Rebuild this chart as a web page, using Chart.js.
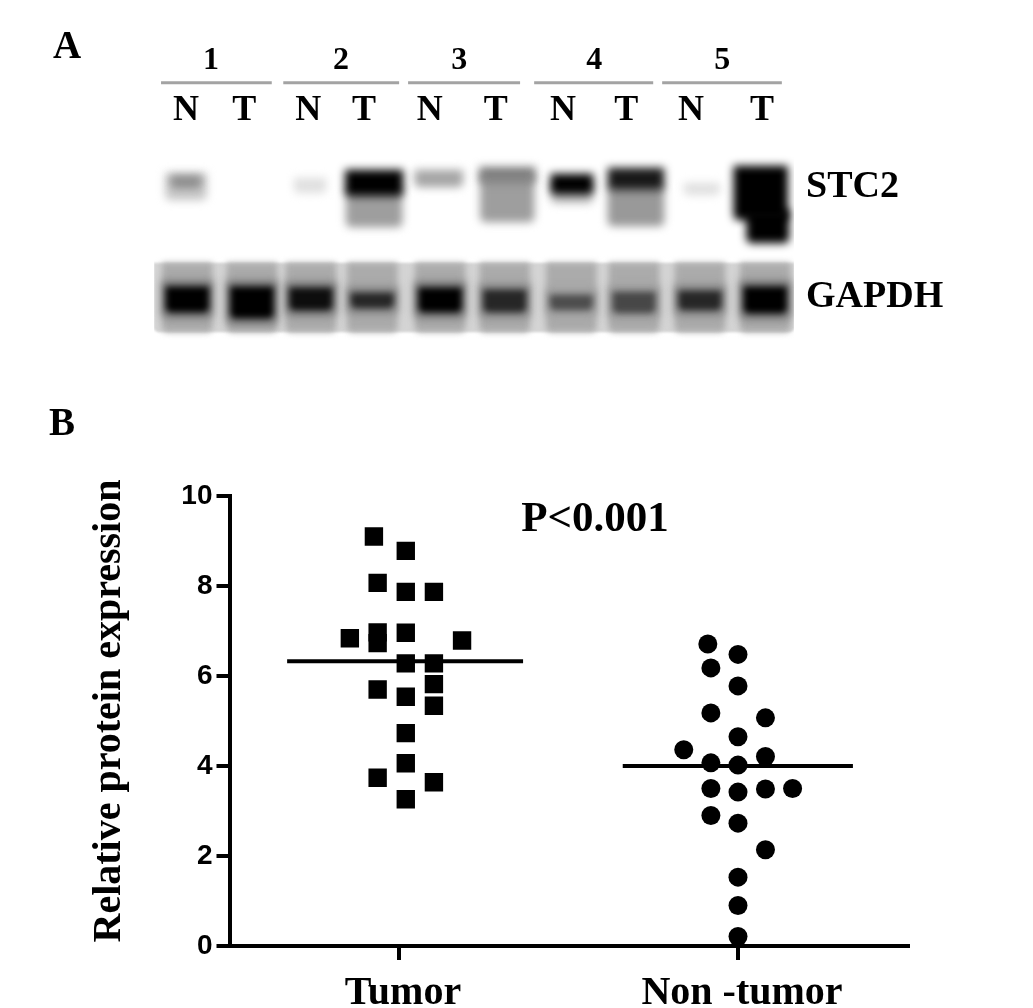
<!DOCTYPE html>
<html>
<head>
<meta charset="utf-8">
<title>STC2 expression</title>
<script src="https://cdn.jsdelivr.net/npm/chart.js@4"></script>
<style>
    html, body { margin: 0; padding: 0; background: #fff; width: 1033px; height: 1008px; overflow: hidden; }
    canvas { position: absolute; left: 0; }
    #blotChart { top: 0; }
    #scatterChart { top: 370px; filter: blur(0.6px); }
    .panel { position: absolute; font: bold 39px 'Liberation Serif', serif; line-height: 1; color: #000; }
</style>
</head>
<body>
<canvas id="blotChart" width="1033" height="340"></canvas>
<canvas id="scatterChart" width="1033" height="638"></canvas>
<div class="panel" style="left:53px;top:25px">A</div>
<div class="panel" style="left:49px;top:402px">B</div>

<script>
// Panel A: lanes along the gel, migration as % of the chart height, density 0-1
var groupLabels = ['1', '2', '3', '4', '5'];
var groupPos    = [1.39, 3.42, 5.27, 7.38, 9.38];
var ruleFrom    = [0.61, 2.52, 4.47, 6.44, 8.44];
var ruleTo      = [2.34, 4.33, 6.22, 8.30, 10.31];
var ruleLevel   = -28.6;

var laneLabels  = ['N', 'T', 'N', 'T', 'N', 'T', 'N', 'T', 'N', 'T'];
var lanePos     = [1, 1.91, 2.91, 3.78, 4.81, 5.84, 6.89, 7.88, 8.89, 10];

var blotLabels  = ['STC2', 'GAPDH'];
var blotLabelAt = [23.5, 78.5];

var stc2Lane    = [1, 1, 2.94, 3.94, 3.94, 4.95, 6.02, 6.02, 7.03, 7.03, 8.03, 8.03, 9.06, 9.98, 10.09];
var stc2Span    = [0.64, 0.47, 0.5, 0.875, 0.9, 0.75, 0.84, 0.875, 0.66, 0.66, 0.875, 0.875, 0.56, 0.84, 0.66];
var stc2Top     = [16.5, 18, 19, 25, 15, 15, 17.5, 13.5, 22.5, 17, 23, 14, 21.5, 13, 35];
var stc2Bottom  = [30, 24, 26.5, 43.5, 28, 23.5, 41, 21.5, 31.5, 27, 43, 25, 27.5, 40, 51.5];
var stc2Density = [0.22, 0.45, 0.12, 0.38, 1, 0.35, 0.38, 0.5, 0.28, 1, 0.4, 0.9, 0.12, 1, 1];

var gapdhLane    = [1.02, 2.03, 2.95, 3.91, 4.97, 5.98, 7.02, 8, 9.03, 10.05];
var gapdhTop     = [73.5, 73.5, 74, 76.5, 74, 75, 77.5, 76, 75.5, 73.5];
var gapdhBottom  = [86, 89, 85, 84, 86, 86, 85, 86.5, 85, 86.5];
var gapdhDensity = [1, 1, 0.95, 0.85, 1, 0.85, 0.7, 0.72, 0.85, 1];

// Panel B
var groupNames = ['Tumor', 'Non -tumor'];
var groupTicks = [1, 2];
var tumorX = [0.926, 1.02, 0.937, 1.02, 1.103, 0.855, 0.937, 0.937, 1.02, 1.186, 1.02, 1.103, 1.103, 0.937, 1.02, 1.103, 1.02, 1.02, 0.937, 1.103, 1.02];
var tumorY = [9.10, 8.78, 8.07, 7.87, 7.87, 6.84, 6.97, 6.73, 6.96, 6.79, 6.28, 6.28, 5.82, 5.70, 5.54, 5.34, 4.73, 4.06, 3.74, 3.64, 3.26];
var normalX = [1.911, 2, 1.92, 2, 1.92, 2.081, 2, 1.84, 2.081, 1.92, 2, 1.92, 2, 2.081, 2.161, 1.92, 2, 2.081, 2, 2, 2];
var normalY = [6.71, 6.48, 6.18, 5.78, 5.18, 5.07, 4.65, 4.36, 4.21, 4.07, 4.02, 3.50, 3.42, 3.49, 3.50, 2.90, 2.73, 2.14, 1.53, 0.90, 0.21];
var tumorMeanX  = [0.67, 1.366];
var tumorMean   = 6.33;
var normalMeanX = [1.66, 2.339];
var normalMean  = 4.0;
var yTicks = [0, 2, 4, 6, 8, 10];

var LANE_PX = 64;
var SERIF = "'Liberation Serif', serif";

function pairs(xs, ys) {
    return xs.map(function (x, i) { return { x: x, y: ys[i] }; });
}

function grey(density) {
    var g = Math.round(255 * (1 - density));
    return 'rgb(' + g + ',' + g + ',' + g + ')';
}

function band(lane, span, top, bottom, density, blur) {
    return {
        type: 'bar',
        data: [{ x: lane, y: [top, bottom] }],
        backgroundColor: grey(density),
        barThickness: span * LANE_PX,
        borderRadius: 5,
        blur: blur
    };
}

function fixedTicks(values) {
    return function (scale) {
        scale.ticks = values.map(function (v) { return { value: v }; });
    };
}

function fixedSize(key, size) {
    return function (scale) { scale[key] = size; };
}

// soft edges for the gel only, tick labels stay sharp
var gelBlur = {
    id: 'gelBlur',
    beforeDatasetDraw: function (chart, args) {
        var b = chart.data.datasets[args.index].blur;
        chart.ctx.save();
        if (b) chart.ctx.filter = 'blur(' + b + 'px)';
    },
    afterDatasetDraw: function (chart) {
        chart.ctx.restore();
    }
};

var blotSets = [];
// GAPDH strip, gutters first then lanes and bands
blotSets.push(band(5.5, 10, 61.5, 96, 0.17, 1));
gapdhLane.forEach(function (lane) {
    blotSets.push(band(lane, 0.78, 61.5, 96, 0.33, 3));
});
gapdhLane.forEach(function (lane, i) {
    blotSets.push(band(lane, 0.78, gapdhTop[i] - 3, gapdhBottom[i] + 3, gapdhDensity[i] * 0.55, 4));
    blotSets.push(band(lane, 0.66, gapdhTop[i], gapdhBottom[i], gapdhDensity[i], 3));
});
stc2Lane.forEach(function (lane, i) {
    blotSets.push(band(lane, stc2Span[i], stc2Top[i], stc2Bottom[i], stc2Density[i], 4));
});
groupLabels.forEach(function (g, i) {
    blotSets.push({
        type: 'line',
        data: [{ x: ruleFrom[i], y: ruleLevel }, { x: ruleTo[i], y: ruleLevel }],
        borderColor: '#a3a3a3',
        borderWidth: 3,
        pointRadius: 0,
        clip: false
    });
});
blotSets.forEach(function (d, i) { d.order = -i; });

new Chart(document.getElementById('blotChart'), {
    data: { datasets: blotSets },
    plugins: [gelBlur],
    options: {
        responsive: false,
        animation: false,
        layout: { padding: { left: 154, top: 0, right: 0, bottom: 0 } },
        plugins: { legend: { display: false }, tooltip: { enabled: false } },
        datasets: { bar: { grouped: false } },
        scales: {
            x: {
                type: 'linear', position: 'top', offset: false, min: 0.5, max: 10.5,
                grid: { display: false }, border: { display: false },
                afterBuildTicks: fixedTicks(lanePos),
                afterFit: fixedSize('height', 46),
                ticks: {
                    autoSkip: false, maxRotation: 0, padding: 0, color: '#000',
                    font: { family: SERIF, size: 36, weight: 'bold' },
                    callback: function (v, i) { return laneLabels[i]; }
                }
            },
            x2: {
                type: 'linear', axis: 'x', position: 'top', min: 0.5, max: 10.5,
                grid: { display: false }, border: { display: false },
                afterBuildTicks: fixedTicks(groupPos),
                afterFit: fixedSize('height', 94),
                ticks: {
                    autoSkip: false, maxRotation: 0, padding: 6, color: '#000',
                    font: { family: SERIF, size: 32, weight: 'bold' },
                    callback: function (v, i) { return groupLabels[i]; }
                }
            },
            y: {
                type: 'linear', position: 'right', reverse: true, min: 0, max: 100,
                grid: { display: false }, border: { display: false },
                afterBuildTicks: fixedTicks(blotLabelAt),
                afterFit: function (scale) {
                    scale.width = 239;
                    scale.paddingTop = 0;
                    scale.paddingBottom = 0;
                },
                ticks: {
                    autoSkip: false, padding: 4, color: '#000',
                    font: { family: SERIF, size: 38, weight: 'bold' },
                    callback: function (v, i) { return blotLabels[i]; }
                }
            }
        }
    }
});

// P value sits inside the plot, placed on the data scales
var pValue = { text: 'P<0.001', x: 1.578, y: 9.47 };
var pValuePlugin = {
    id: 'pValue',
    afterDraw: function (chart) {
        var ctx = chart.ctx;
        ctx.save();
        ctx.font = 'bold 43px ' + SERIF;
        ctx.fillStyle = '#000';
        ctx.textAlign = 'center';
        ctx.textBaseline = 'middle';
        ctx.fillText(pValue.text, chart.scales.x.getPixelForValue(pValue.x), chart.scales.y.getPixelForValue(pValue.y));
        ctx.restore();
    }
};

new Chart(document.getElementById('scatterChart'), {
    type: 'scatter',
    data: {
        datasets: [
            { label: 'Tumor', data: pairs(tumorX, tumorY), pointStyle: 'rect', pointRadius: 13, backgroundColor: '#000', borderWidth: 0 },
            { label: 'Non-tumor', data: pairs(normalX, normalY), pointStyle: 'circle', pointRadius: 9.5, backgroundColor: '#000', borderWidth: 0 },
            { label: 'Tumor mean', data: pairs(tumorMeanX, [tumorMean, tumorMean]), showLine: true, pointRadius: 0, borderColor: '#000', borderWidth: 4 },
            { label: 'Non-tumor mean', data: pairs(normalMeanX, [normalMean, normalMean]), showLine: true, pointRadius: 0, borderColor: '#000', borderWidth: 4 }
        ]
    },
    plugins: [pValuePlugin],
    options: {
        responsive: false,
        animation: false,
        layout: { padding: { left: 0, top: 126, right: 125.5, bottom: 0 } },
        plugins: { legend: { display: false }, tooltip: { enabled: false } },
        scales: {
            x: {
                type: 'linear', min: 0.5, max: 2.5,
                grid: { drawOnChartArea: false, color: '#000', lineWidth: 4, tickLength: 14 },
                border: { color: '#000', width: 4 },
                afterBuildTicks: fixedTicks(groupTicks),
                afterFit: fixedSize('height', 62),
                ticks: {
                    autoSkip: false, maxRotation: 0, padding: 10, labelOffset: 4, color: '#000',
                    font: { family: SERIF, size: 40, weight: 'bold' },
                    callback: function (v, i) { return groupNames[i]; }
                }
            },
            y: {
                type: 'linear', min: 0, max: 10,
                grid: { drawOnChartArea: false, color: '#000', lineWidth: 4, tickLength: 13 },
                border: { color: '#000', width: 4 },
                afterBuildTicks: fixedTicks(yTicks),
                afterFit: fixedSize('width', 229.5),
                ticks: {
                    autoSkip: false, padding: 4, color: '#000',
                    font: { family: "'Liberation Sans', sans-serif", size: 28, weight: 'bold' }
                },
                title: {
                    display: true,
                    text: '  Relative protein expression',
                    color: '#000',
                    padding: { top: 86, bottom: 0 },
                    font: { family: SERIF, size: 40, weight: 'bold' }
                }
            }
        }
    }
});
</script>
</body>
</html>
